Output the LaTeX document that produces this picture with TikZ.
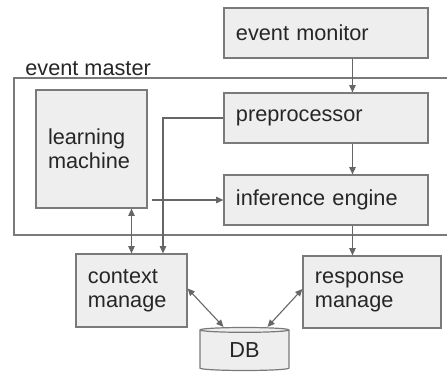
\documentclass[tikz,border=0pt]{standalone}
\usepackage{fontspec}
\setmainfont{Liberation Sans}
\usepackage{tikz}
\usetikzlibrary{arrows.meta,shapes.geometric}
\definecolor{boxgray}{HTML}{EEEEEE}
\definecolor{linegray}{HTML}{666666}
\definecolor{edgegray}{HTML}{7A7A7A}
\tikzset{>={Triangle[length=3.6pt,width=3.2pt]}}

\begin{document}
\begin{tikzpicture}[x=0.5pt,y=-0.5pt,
    block/.style={draw=edgegray,fill=boxgray,line width=0.6pt,inner xsep=6pt,align=left,
      text=black!85,font=\fontsize{10.85}{12}\selectfont},
    link/.style={draw=linegray,line width=0.55pt}]
      \useasboundingbox (0,0) rectangle (447,372);
      \clip (0,0) rectangle (447,372);
      \draw[edgegray,line width=0.6pt] (14,78) rectangle (470,235);
      \node[anchor=base west,inner sep=0pt,text=black!85,font=\fontsize{10.85}{12}\selectfont] (master) at (25,75) {event master};
      \node[block,text width=90pt,minimum height=25pt] (em) at (326,33) {event monitor};
      \node[block,text width=90pt,minimum height=25pt] (pre) at (326,118) {preprocessor};
      \node[block,text width=90pt,minimum height=25pt] (ie) at (326,200) {inference engine};
      \node[block,text width=43.5pt,minimum height=59pt] (lm) at (91.5,149) {learning\\machine};
      \node[block,text width=43.5pt,minimum height=36.5pt] (ctx) at (131.5,290.5) {context\\manage};
      \node[block,text width=57pt,minimum height=36pt] (resp) at (372,292) {response\\manage};
      \node[block,cylinder,shape border rotate=90,shape aspect=0.16,align=center,inner xsep=0pt,
        minimum width=44.5pt,minimum height=21.5pt] (db) at (244.5,350.5) {DB};
      \coordinate (tap) at (352.5,0);
      \coordinate (feed) at (163,0);
      \draw[link,->] (tap |- em.south) -- (tap |- pre.north);
      \draw[link,->] (tap |- pre.south) -- (tap |- ie.north);
      \draw[link,->] (tap |- ie.south) -- (tap |- resp.north);
      \draw[link,->] (pre.west) -| (feed |- ctx.north);
      \draw[link,->] ([xshift=2pt]lm.east |- ie.west) -- (ie.west);
      \draw[link,<->] (lm.south -| ctx.north) -- (ctx.north);
      \draw[link,<->] ([yshift=1pt]ctx.east) -- ([xshift=-10.5pt]db.north);
      \draw[link,<->] ([yshift=1.5pt]resp.west) -- ([xshift=11.5pt]db.north);
    \end{tikzpicture}
\end{document}
